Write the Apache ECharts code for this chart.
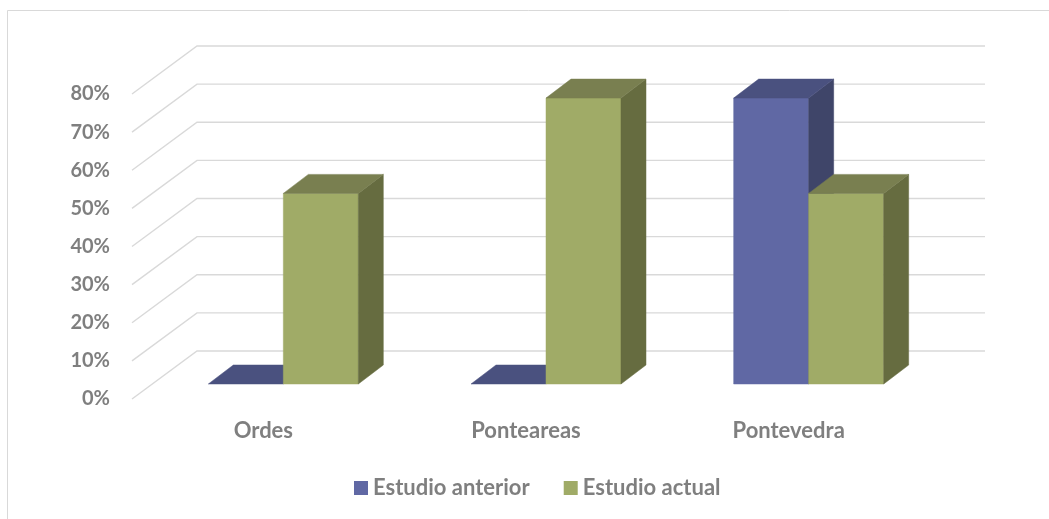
<!DOCTYPE html>
<html>
<head>
<meta charset="utf-8">
<script src="https://cdn.jsdelivr.net/npm/echarts@6/dist/echarts.min.js"></script>
<style>html,body{margin:0;padding:0;background:#fff;}#c{width:1049px;height:519px;}</style>
</head>
<body>
<div id="c"></div>
<script>
const categories = ['Ordes', 'Ponteareas', 'Pontevedra'];
const seriesNames = ['Estudio anterior', 'Estudio actual'];
const estudioAnterior = [0, 0, 0.75];
const estudioActual = [0.5, 0.75, 0.5];
const yTicks = [0, 0.1, 0.2, 0.3, 0.4, 0.5, 0.6, 0.7, 0.8];

const WALL_DX = 65, WALL_DY = -48;   // back wall offset
const BAR_DX = 20, BAR_DY = -15;     // bar front plane offset from floor front
const DEP_DX = 25, DEP_DY = -19;     // bar depth
const BAR_FRAC = 75 / 262.7;

const palette = [
  {front: '#6068a4', top: '#4a517f', side: '#3f4569'},
  {front: '#a0ab67', top: '#797f50', side: '#666c40'}
];
const FONT = 'Lato';
const TXT = '#7f7f7f';

function barRender(si) {
  return function (params, api) {
    const cat = api.value(0), v = api.value(1);
    const base = api.coord([cat, 0]);
    const top = api.coord([cat, v]);
    const band = api.size([1, 0])[0];
    const w = band * BAR_FRAC;
    const x0 = base[0] + BAR_DX - (si === 0 ? w : 0);
    const by = base[1] + BAR_DY;
    const ty = top[1] + BAR_DY;
    const c = palette[si];
    const children = [];
    if (by - ty > 0.5) {
      children.push({type: 'rect', shape: {x: x0, y: ty, width: w, height: by - ty},
        style: {fill: c.front, stroke: c.front, lineWidth: 0.5}});
      children.push({type: 'polygon', shape: {points: [[x0 + w, ty], [x0 + w + DEP_DX, ty + DEP_DY], [x0 + w + DEP_DX, by + DEP_DY], [x0 + w, by]]},
        style: {fill: c.side, stroke: c.side, lineWidth: 0.5}});
    }
    children.push({type: 'polygon', shape: {points: [[x0, ty], [x0 + w, ty], [x0 + w + DEP_DX, ty + DEP_DY], [x0 + DEP_DX, ty + DEP_DY]]},
      style: {fill: c.top, stroke: c.top, lineWidth: 0.5}});
    return {type: 'group', children: children};
  };
}

function gridRender(params, api) {
  const v = api.value(1);
  const p = api.coord([0, v]);
  const band = api.size([1, 0])[0];
  const left = p[0] - band / 2;
  const right = left + band * categories.length;
  return {type: 'polyline', shape: {points: [[left, p[1]], [left + WALL_DX, p[1] + WALL_DY], [right + WALL_DX, p[1] + WALL_DY]]},
    style: {stroke: '#d9d9d9', lineWidth: 1.4, fill: null}, silent: true};
}

const chart = echarts.init(document.getElementById('c'));
chart.setOption({
  animation: false,
  backgroundColor: '#fff',
  graphic: [{type: 'rect', shape: {x: 7.5, y: 10.5, width: 1200, height: 700}, style: {fill: null, stroke: '#d9d9d9', lineWidth: 1}, silent: true, z: -10}],
  grid: {left: 132, right: 129, top: 94, bottom: 120},
  legend: {
    data: seriesNames, left: 349, top: 472, icon: 'rect', itemWidth: 14, itemHeight: 14, itemGap: 34,
    textStyle: {color: TXT, fontFamily: FONT, fontWeight: 'bold', fontSize: 22}
  },
  xAxis: {
    type: 'category', data: categories,
    axisLine: {show: false}, axisTick: {show: false}, splitLine: {show: false},
    axisLabel: {color: TXT, fontFamily: FONT, fontWeight: 'bold', fontSize: 22, margin: 21}
  },
  yAxis: {
    type: 'value', min: 0, max: 0.8, interval: 0.1,
    axisLine: {show: false}, axisTick: {show: false}, splitLine: {show: false},
    axisLabel: {color: TXT, fontFamily: FONT, fontWeight: 'bold', fontSize: 20, margin: 22, padding: [7, 0, 0, 0],
      formatter: v => Math.round(v * 100) + '%'}
  },
  series: [
    {type: 'custom', name: '_grid', renderItem: gridRender, data: yTicks.map(t => [0, t]), encode: {x: 0, y: 1}, z: 1, silent: true},
    {type: 'custom', name: seriesNames[0], renderItem: barRender(0), itemStyle: {color: palette[0].front},
      data: estudioAnterior.map((v, i) => [i, v]), encode: {x: 0, y: 1}, z: 2},
    {type: 'custom', name: seriesNames[1], renderItem: barRender(1), itemStyle: {color: palette[1].front},
      data: estudioActual.map((v, i) => [i, v]), encode: {x: 0, y: 1}, z: 3}
  ]
});
</script>
</body>
</html>
